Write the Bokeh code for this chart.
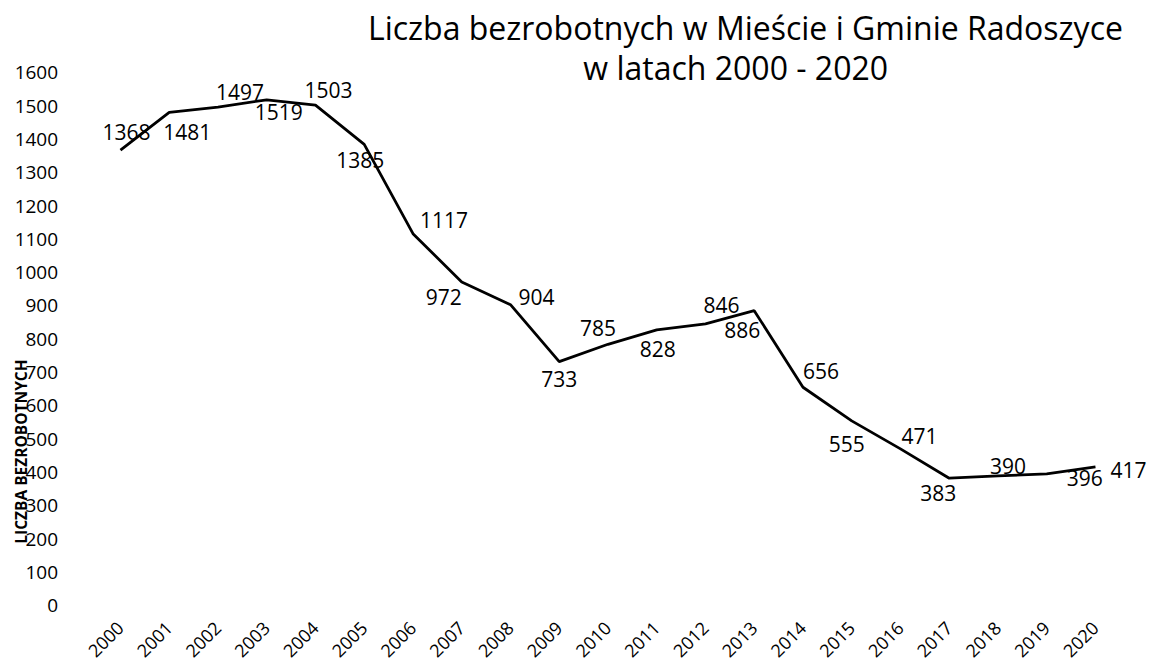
from bokeh.plotting import figure
from bokeh.models import ColumnDataSource, LabelSet, Label, Range1d, FixedTicker
from bokeh.core.properties import value
from bokeh.embed import file_html
from bokeh.resources import INLINE
import math

# ---- data ----
years = [2000, 2001, 2002, 2003, 2004, 2005, 2006, 2007, 2008, 2009, 2010,
         2011, 2012, 2013, 2014, 2015, 2016, 2017, 2018, 2019, 2020]
unemployed = [1368, 1481, 1497, 1519, 1503, 1385, 1117, 972, 904, 733, 785,
              828, 846, 886, 656, 555, 471, 383, 390, 396, 417]
y_ticks = [0, 100, 200, 300, 400, 500, 600, 700, 800, 900, 1000, 1100,
           1200, 1300, 1400, 1500, 1600]
year_labels = [str(y) for y in years]

title_line1 = "Liczba bezrobotnych w Mieście i Gminie Radoszyce"
title_line2 = "w latach 2000 - 2020"
y_title = "LICZBA BEZROBOTNYCH"

# data-label placement (pixel offsets from each point: right / up)
label_dx = [6, 18, 22, 12, 13, -4, 31, -18, 26, 0, -10, 1, 16, -12, 18, -5, 19, -11, 10, 38, 33]
label_dy = [18, -20, 15, -12, 15, -16, 14, -15, 8, -17, 16, -19, 19, -19, 16, -23, 13, -15, 10, -4, -3]

FONT = "Open Sans"

# view window (the axes are pinned at x=1999.5 and y=0 inside it)
W, H = 1152, 665
X_RANGE = (1997.539, 1997.539 + W / 48.75)
Y_RANGE = (1817.0 - H / 0.33313, 1817.0)

p = figure(width=W, height=H, output_backend="svg", toolbar_location=None,
           x_range=Range1d(*X_RANGE), y_range=Range1d(*Y_RANGE),
           min_border_left=0, min_border_right=0, min_border_top=0,
           min_border_bottom=0)
p.outline_line_color = None
p.background_fill_color = "white"
p.border_fill_color = "white"
p.grid.visible = False

src = ColumnDataSource(dict(x=years, y=unemployed,
                            t=[str(v) for v in unemployed],
                            dx=label_dx, dy=label_dy))
p.line("x", "y", source=src, line_color="black", line_width=2.8)

labels = LabelSet(x="x", y="y", text="t", source=src, x_offset="dx", y_offset="dy",
                  text_align="center", text_baseline="middle",
                  text_font=value(FONT), text_font_size="21px", text_color="black")
p.add_layout(labels)

# axes
p.yaxis.fixed_location = 1999.5
p.yaxis.ticker = FixedTicker(ticks=y_ticks)
p.yaxis.axis_line_color = None
p.yaxis.major_tick_line_color = None
p.yaxis.minor_tick_line_color = None
p.yaxis.major_tick_out = 0
p.yaxis.major_tick_in = 0
p.yaxis.major_label_standoff = 38
p.yaxis.major_label_text_font = FONT
p.yaxis.major_label_text_font_size = "19px"
p.yaxis.major_label_text_color = "black"

p.xaxis.fixed_location = 0
p.xaxis.ticker = FixedTicker(ticks=years)
p.xaxis.major_label_overrides = {y: s for y, s in zip(years, year_labels)}
p.xaxis.major_label_orientation = math.pi / 4
p.xaxis.axis_line_color = None
p.xaxis.major_tick_line_color = None
p.xaxis.minor_tick_line_color = None
p.xaxis.major_tick_out = 0
p.xaxis.major_tick_in = 0
p.xaxis.major_label_standoff = 19
p.xaxis.major_label_text_font = FONT
p.xaxis.major_label_text_font_size = "18px"
p.xaxis.major_label_text_color = "black"

# titles
p.add_layout(Label(x=2012.82, y=1736, text=title_line1, text_align="center",
                   text_baseline="alphabetic", text_font=FONT, text_font_size="32px",
                   text_color="black"))
p.add_layout(Label(x=2012.62, y=1616, text=title_line2, text_align="center",
                   text_baseline="alphabetic", text_font=FONT, text_font_size="32px",
                   text_color="black"))
p.add_layout(Label(x=1997.95, y=463, text=y_title, angle=math.pi / 2,
                   text_align="center", text_baseline="middle", text_font=FONT,
                   text_font_size="15.5px", text_font_style="bold", text_color="black"))

open("out.html", "w").write(file_html(p, INLINE))
